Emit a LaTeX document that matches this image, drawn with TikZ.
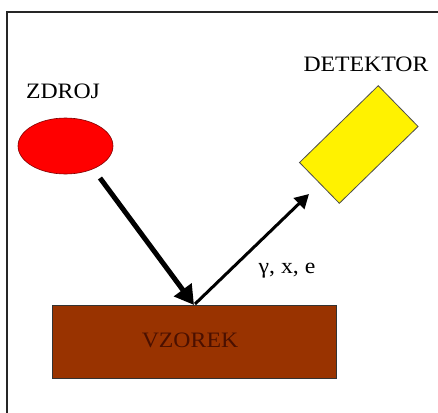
\documentclass[tikz,border=0pt]{standalone}
\usepackage{fontspec}
\setmainfont{Liberation Serif}
\usetikzlibrary{shapes.geometric,arrows.meta}
\definecolor{brick}{HTML}{993300}
\definecolor{brickdark}{HTML}{4A1000}
\tikzset{
  lbl/.style={font=\fontsize{22}{24}\selectfont, inner sep=0pt},
  thickarrow/.style={line width=5pt, -{Triangle[length=19pt,width=21pt]}},
  thinarrow/.style={line width=3pt, -{Triangle[length=14pt,width=15pt]}},
}
\begin{document}
\begin{tikzpicture}[x=1pt,y=-1pt]
\useasboundingbox (0,0) rectangle (438,412);
\clip (0,0) rectangle (438,412);
\fill[white] (0,0) rectangle (438,412);
\draw[line width=2pt, draw=black!85] (7,12) rectangle (460,430);
% sample
\node[draw=black!80, fill=brick, line width=0.8pt, minimum width=284pt, minimum height=73pt, inner sep=0pt] (sample) at (194,341.5) {};
\node[lbl, text=brickdark] (vz) at (190,340) {\scalebox{1.08}[1]{VZOREK}};
% source
\node[ellipse, draw=red!50!black, fill=red, line width=0.6pt, minimum width=95pt, minimum height=56pt, inner sep=0pt] (src) at (65.5,146) {};
\node[lbl] (zd) at (63,91) {\scalebox{1.08}[1]{ZDROJ}};
% detector
\node[rectangle, draw=black!70, fill=yellow, line width=0.8pt, minimum width=110pt, minimum height=57pt, inner sep=0pt, rotate=44.3] (det) at (358.8,144.5) {};
\node[lbl] (dt) at (366,64.5) {\scalebox{1.08}[1]{DETEKTOR}};
% arrows
\coordinate (s1) at (100,178);
\coordinate (hit) at (194,305);
\coordinate (hit2) at (195,304);
\coordinate (e2) at (309,194);
\draw[thickarrow] (s1) -- (hit);
\draw[thinarrow] (hit2) -- (e2);
\node[lbl] (ray) at (287,271) {\scalebox{1.08}[1]{γ, x, e}};
\end{tikzpicture}
\end{document}
